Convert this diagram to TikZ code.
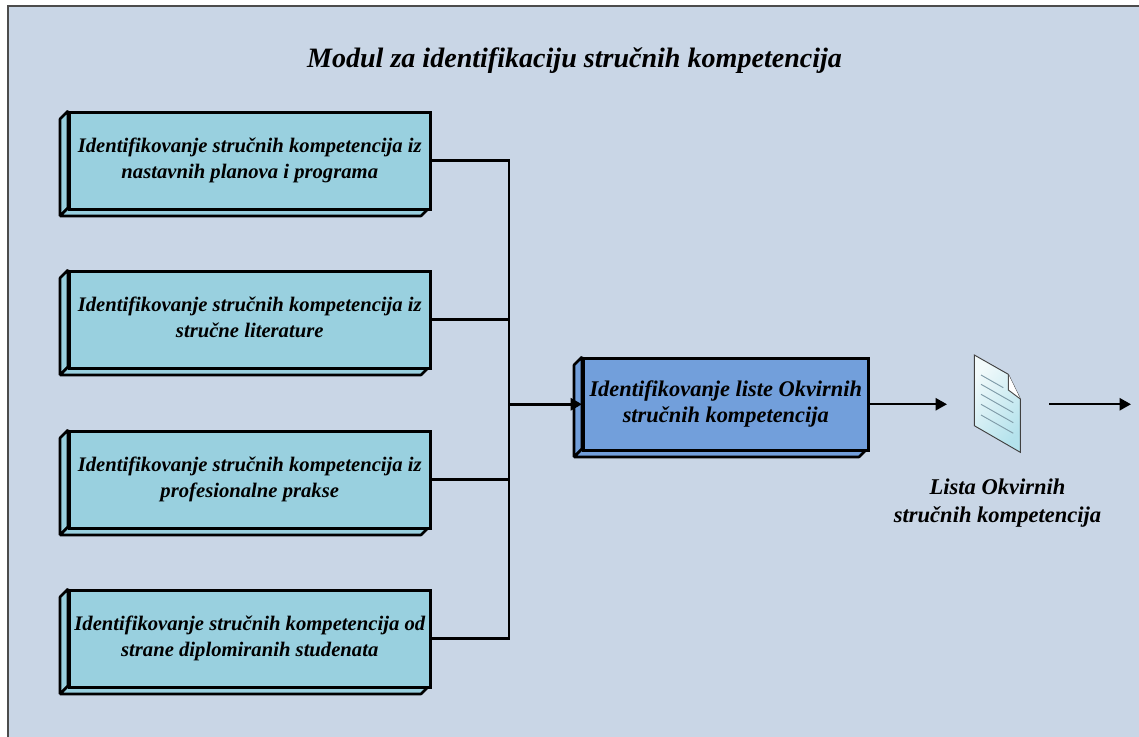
\documentclass[tikz,border=0pt]{standalone}
\usepackage{fontspec}
\setmainfont{Liberation Serif}
\usetikzlibrary{arrows.meta}
\definecolor{panelbg}{HTML}{C9D6E6}
\definecolor{boxcyan}{HTML}{99D0DF}
\definecolor{boxblue}{HTML}{729FDB}
\definecolor{docline}{HTML}{7F9BA8}
\definecolor{docleft}{HTML}{B4E2EC}
\definecolor{docright}{HTML}{F2FAFB}
\tikzset{
  x=0.75pt,y=-0.75pt,
  frontbox/.style={draw=black,line width=1.9pt,fill=#1,inner sep=0pt,align=center,anchor=north west},
  depth/.style={draw=black,line width=1.9pt,fill=#1,line join=bevel},
  bus/.style={draw=black,line width=2.2pt},
  flow/.style={draw=black,line width=1.8pt,-{Triangle[length=8.5pt,width=9pt]}}
}
\newcommand{\boxdrop}{2.1pt}
\newcommand{\solidbox}[8]{% name, left, top, width, height, colour, font size, text
  \draw[depth=#6] (#2,#3) -- ++(-8,8) -- ++(0,#5) -- ++(8,-8) -- cycle;
  \draw[depth=#6] (#2,#3+#5) -- ++(-8,8) -- ++(#4,0) -- ++(8,-8) -- cycle;
  \node[frontbox=#6,minimum width=#4*0.75pt,minimum height=#5*0.75pt,
    font=\fontsize{#7pt}{19.5pt}\selectfont\bfseries\itshape] (#1) at (#2,#3) {\raisebox{-\boxdrop}{\begin{tabular}{@{}c@{}}#8\end{tabular}}};
}
\begin{document}
\begin{tikzpicture}
\useasboundingbox (0,0) rectangle (1139,737);
\fill[white] (0,0) rectangle (1139,737);
\fill[panelbg] (8,6) rectangle (1139,737);
\draw[draw=black!70,line width=0.9pt] (8,737) -- (8,6) -- (1139,6);
\node[font=\fontsize{21.05pt}{24pt}\selectfont\bfseries\itshape] (title) at (574.5,61) {Modul za identifikaciju stručnih kompetencija};
\solidbox{b1}{68}{111}{361}{97}{boxcyan}{15.5}{Identifikovanje stručnih kompetencija iz\\nastavnih planova i programa}
\solidbox{b2}{68}{270}{361}{97}{boxcyan}{15.5}{Identifikovanje stručnih kompetencija iz\\stručne literature}
\solidbox{b3}{68}{430}{361}{97}{boxcyan}{15.5}{Identifikovanje stručnih kompetencija iz\\profesionalne prakse}
\solidbox{b4}{68}{589}{361}{97}{boxcyan}{15.5}{Identifikovanje stručnih kompetencija od\\strane diplomiranih studenata}
\renewcommand{\boxdrop}{3pt}
\solidbox{m}{582}{357}{285}{92}{boxblue}{16.8}{Identifikovanje liste Okvirnih\\stručnih kompetencija}
\coordinate (busx) at (509,0);
\coordinate (docin) at (947,0);
\coordinate (docout) at (1049,0);
\coordinate (exit) at (1131,0);
\draw[bus] (b1.east) -- (b1.east -| busx) -- (b4.east -| busx) -- (b4.east);
\draw[bus] (b2.east) -- (b2.east -| busx);
\draw[bus] (b3.east) -- (b3.east -| busx);
\draw[flow,line width=2.2pt] (m.west -| busx) -- (m.west);
\draw[flow] (m.east) -- (m.east -| docin);
\draw[flow] (m.east -| docout) -- (m.east -| exit);
% document icon
\shade[top color=docright,bottom color=docleft,shading angle=50,draw=black!75,line width=0.7pt]
  (974.3,355) -- (1008.3,374.3) -- (1020.3,399) -- (1020.3,452.3) -- (974.3,425.7) -- cycle;
\fill[white] (1008.3,374.3) -- (1008.3,390) -- (1020.3,399) -- cycle;
\draw[black!70,line width=0.7pt] (1008.3,374.3) -- (1008.3,390) -- (1020.3,399);
\draw[docline,line width=0.7pt]
  (981,375) -- (1003.3,387.7)
  (981,384.3) -- (1013.3,402.7)
  (981,394.3) -- (1013.3,412.7)
  (981,404.3) -- (1013.3,422.7)
  (981,415) -- (1013.3,433.3);
\node[align=center,font=\fontsize{16.9pt}{21pt}\selectfont\bfseries\itshape] (doclabel) at (997.5,503) {Lista Okvirnih\\stručnih kompetencija};
\end{tikzpicture}
\end{document}
